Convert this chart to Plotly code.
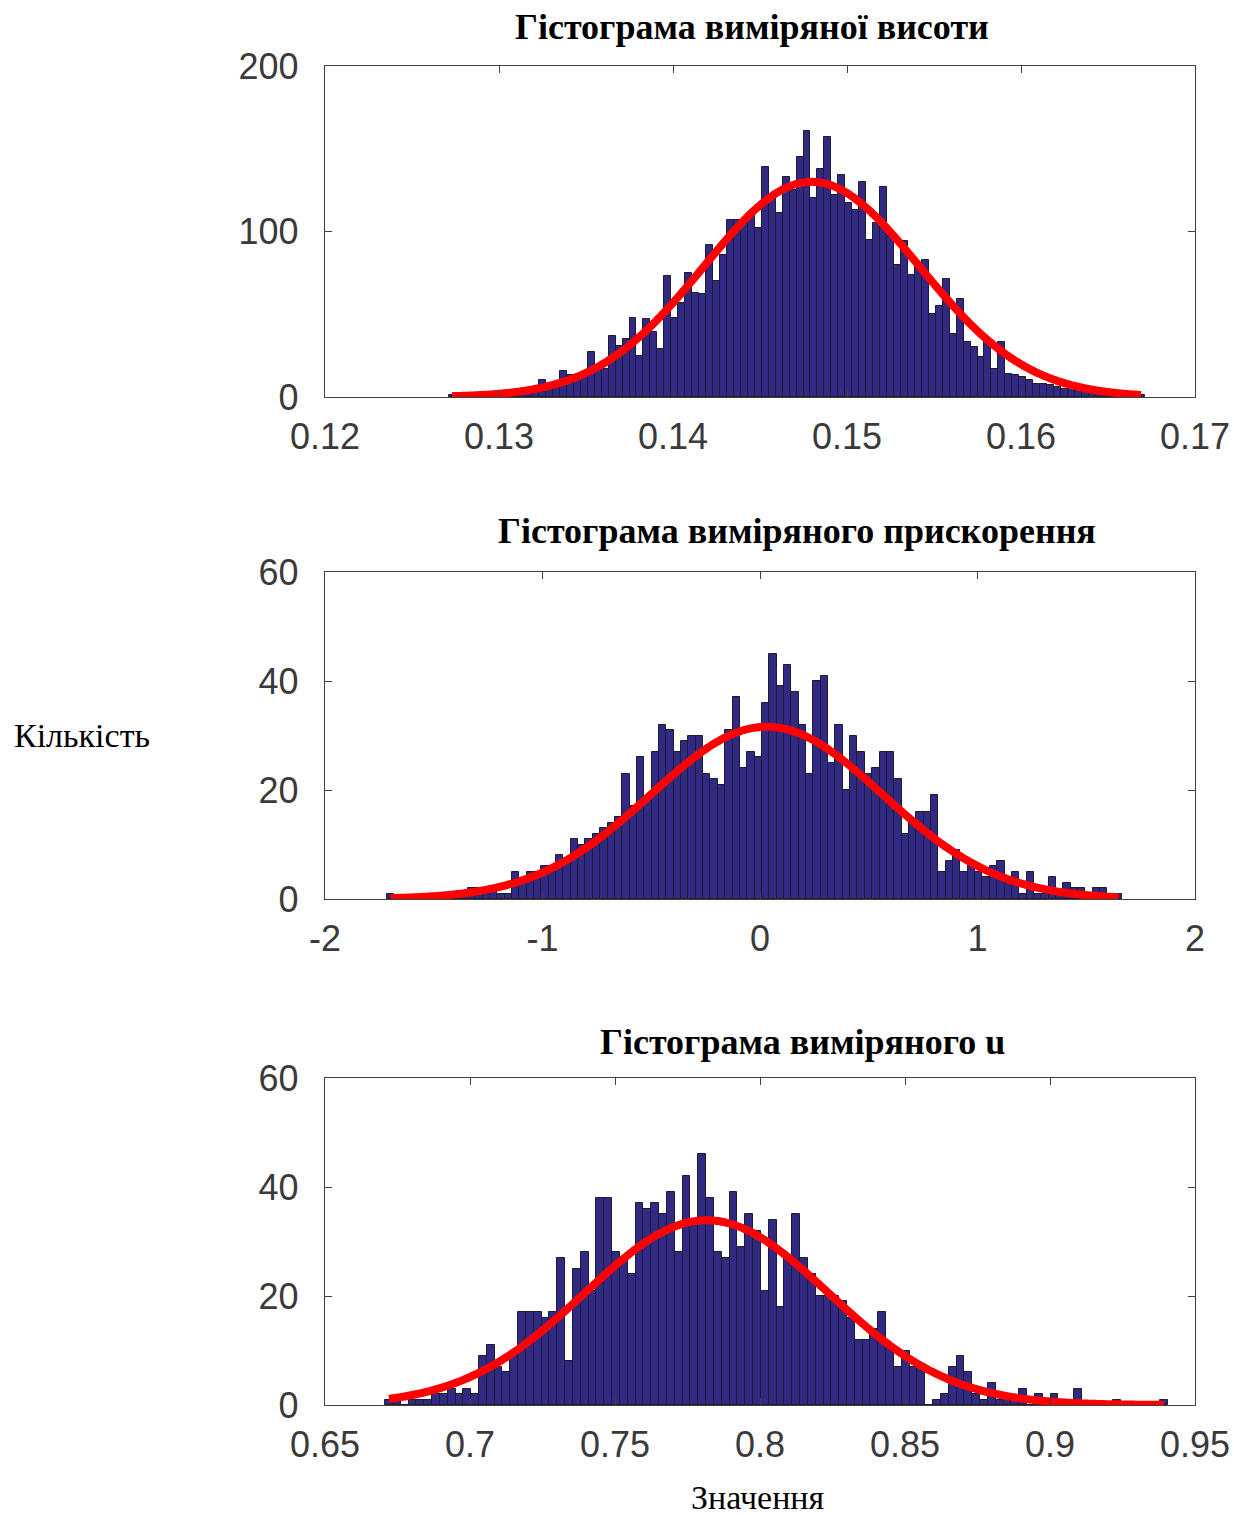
import numpy as np
import plotly.graph_objects as go

# ---- measured height ----
height_counts = [1, 1, 1, 1, 2, 1, 2, 2, 3, 3, 4, 4, 5, 10, 6, 7, 16, 13, 10, 12,
                 27, 17, 17, 37, 31, 35, 48, 25, 47, 39, 29, 73, 48, 57, 75, 63, 62, 92, 70, 86,
                 107, 107, 106, 111, 102, 139, 121, 111, 133, 125, 145, 161, 120, 138, 157, 122, 134, 117, 113, 130,
                 95, 105, 127, 97, 80, 94, 74, 81, 83, 50, 55, 71, 38, 59, 33, 30, 24, 35, 17, 33,
                 14, 13, 12, 10, 8, 8, 7, 6, 5, 5, 4, 3, 3, 2, 2, 2, 1, 1, 1, 1]
height_bin_start = 0.1271
height_bin_width = 0.0004
height_mu = 0.14797
height_sigma = 0.0062
height_peak = 130.0

# ---- measured acceleration ----
accel_counts = [1, 0, 0, 0, 0, 1, 1, 1, 1, 1, 1, 2, 2, 2, 2, 1, 1,
                5, 3, 5, 5, 6, 5, 8, 7, 11, 10, 11, 12, 13, 14, 15, 23,
                17, 26, 18, 27, 32, 31, 27, 29, 30, 30, 23, 22, 21, 31, 37, 24, 27, 26,
                36, 45, 39, 43, 38, 32, 23, 40, 41, 25, 32, 20, 30, 27, 23, 24, 27,
                27, 22, 12, 14, 16, 16, 19, 5, 7, 9, 5, 6, 5, 4, 6, 7, 3, 5,
                1, 5, 1, 1, 4, 1, 3, 2, 2, 1, 2, 2, 1, 1]
accel_bin_start = -1.715
accel_bin_width = 0.0338
accel_mu = 0.031
accel_sigma = 0.533
accel_peak = 31.6

# ---- measured u ----
u_counts = [1, 1, 0, 1, 1, 1, 2, 2, 3, 2, 3, 2, 9, 11, 7, 6, 9, 17, 17, 17,
            16, 17, 27, 8, 25, 28, 21, 38, 38, 28, 27, 24, 37,
            36, 37, 35, 39, 28, 42, 34, 46, 38, 28, 27, 39, 29, 35, 32, 21, 34,
            18, 27, 35, 27, 24, 20, 20, 20, 19, 16, 12, 12, 14, 17, 11, 7, 10,
            7, 7, 0, 1, 2, 7, 9, 6, 2, 1, 4, 1, 1, 1, 3, 0, 2, 1, 2, 1, 1, 3,
            0, 0, 0, 0, 1, 0, 0, 0, 0, 0, 1]
u_bin_start = 0.6707
u_bin_width = 0.0027
u_mu = 0.7816
u_sigma = 0.042
u_peak = 33.9

titles = ["Гістограма виміряної висоти",
          "Гістограма виміряного прискорення",
          "Гістограма виміряного u"]
y_label = "Кількість"
x_label = "Значення"

x_ranges = [[0.12, 0.17], [-2, 2], [0.65, 0.95]]
x_tickvals = [[0.12, 0.13, 0.14, 0.15, 0.16, 0.17],
              [-2, -1, 0, 1, 2],
              [0.65, 0.7, 0.75, 0.8, 0.85, 0.9, 0.95]]
x_ticktext = [["0.12", "0.13", "0.14", "0.15", "0.16", "0.17"],
              ["-2", "-1", "0", "1", "2"],
              ["0.65", "0.7", "0.75", "0.8", "0.85", "0.9", "0.95"]]
y_ranges = [[0, 200], [0, 60], [0, 60]]
y_tickvals = [[0, 100, 200], [0, 20, 40, 60], [0, 20, 40, 60]]

BAR_FILL = "#302a85"
BAR_EDGE = "#1c1c2a"
CURVE = "#ff0000"
AXIS = "#404040"
TICK_FONT = dict(family="Liberation Sans, Arial, sans-serif", size=36, color="#3a3a3a")
SERIF = "Liberation Serif, Times New Roman, serif"

W, H = 1234, 1515
# plot boxes in pixels: (left, right, top, bottom)
boxes = [(325, 1195, 66, 397), (325, 1195, 572, 899), (325, 1195, 1078, 1405)]
title_pos = [(752, 27), (797, 531), (802, 1042)]

datasets = [
    (height_counts, height_bin_start, height_bin_width, height_mu, height_sigma, height_peak),
    (accel_counts, accel_bin_start, accel_bin_width, accel_mu, accel_sigma, accel_peak),
    (u_counts, u_bin_start, u_bin_width, u_mu, u_sigma, u_peak),
]

fig = go.Figure()
layout = dict(
    width=W, height=H,
    margin=dict(l=0, r=0, t=0, b=0, autoexpand=False),
    paper_bgcolor="white", plot_bgcolor="white",
    showlegend=False, bargap=0,
)
annotations = []

for k, (counts, start, width, mu, sigma, peak) in enumerate(datasets):
    n = len(counts)
    centers = start + width * (np.arange(n) + 0.5)
    xa = "x" if k == 0 else f"x{k + 1}"
    ya = "y" if k == 0 else f"y{k + 1}"
    fig.add_trace(go.Bar(
        x=centers, y=counts, width=width,
        marker=dict(color=BAR_FILL, line=dict(color=BAR_EDGE, width=1)),
        xaxis=xa, yaxis=ya,
    ))
    xs = np.linspace(centers[0], centers[-1], 300)
    ys = peak * np.exp(-0.5 * ((xs - mu) / sigma) ** 2)
    fig.add_trace(go.Scatter(
        x=xs, y=ys, mode="lines",
        line=dict(color=CURVE, width=8, shape="spline"),
        xaxis=xa, yaxis=ya,
    ))

    left, right, top, bottom = boxes[k]
    xkey = "xaxis" if k == 0 else f"xaxis{k + 1}"
    ykey = "yaxis" if k == 0 else f"yaxis{k + 1}"
    layout[xkey] = dict(
        domain=[left / W, right / W], anchor=ya, range=x_ranges[k],
        tickvals=x_tickvals[k], ticktext=x_ticktext[k],
        showline=True, linecolor=AXIS, linewidth=1.3, mirror="allticks",
        ticks="inside", ticklen=7, tickcolor=AXIS, tickwidth=1.3,
        showgrid=False, zeroline=False, tickfont=TICK_FONT, ticklabelstandoff=8,
        automargin=False,
    )
    layout[ykey] = dict(
        domain=[1 - bottom / H, 1 - top / H], anchor=xa, range=y_ranges[k],
        tickvals=y_tickvals[k],
        showline=True, linecolor=AXIS, linewidth=1.3, mirror="allticks",
        ticks="inside", ticklen=7, tickcolor=AXIS, tickwidth=1.3,
        showgrid=False, zeroline=False, tickfont=TICK_FONT, ticklabelstandoff=18,
        automargin=False,
    )
    tx, ty = title_pos[k]
    annotations.append(dict(
        text=f"<b>{titles[k]}</b>", x=tx / W, y=1 - ty / H, xref="paper", yref="paper",
        xanchor="center", yanchor="middle", showarrow=False,
        font=dict(family=SERIF, size=36, color="black"),
    ))

annotations.append(dict(
    text=y_label, x=12 / W, y=1 - 735 / H, xref="paper", yref="paper",
    xanchor="left", yanchor="middle", showarrow=False,
    font=dict(family=SERIF, size=34, color="black"),
))
annotations.append(dict(
    text=x_label, x=758 / W, y=1 - 1497 / H, xref="paper", yref="paper",
    xanchor="center", yanchor="middle", showarrow=False,
    font=dict(family=SERIF, size=34, color="black"),
))
layout["annotations"] = annotations
fig.update_layout(**layout)

fig.write_html("out.html")
